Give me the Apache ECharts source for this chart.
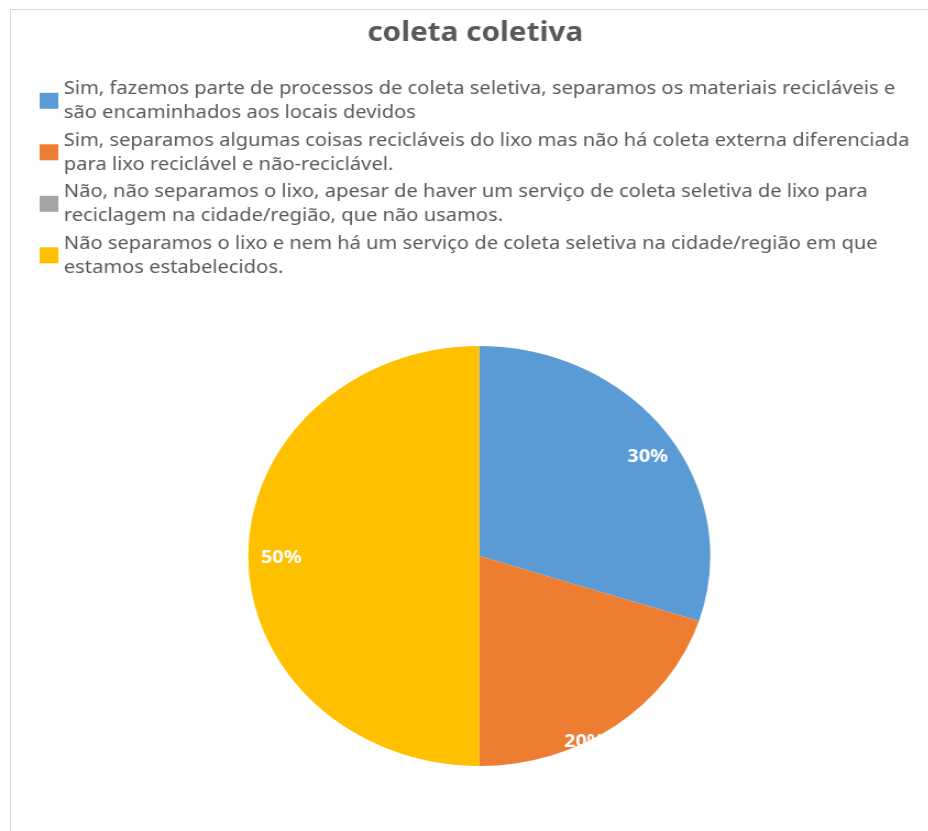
<!DOCTYPE html>
<html>
<head>
<meta charset="utf-8">
<script src="https://cdn.jsdelivr.net/npm/echarts@6/dist/echarts.min.js"></script>
<style>
  html, body { margin: 0; padding: 0; background: #fff; overflow: hidden; width: 928px; height: 831px; }
  /* light frame of the chart area */
  #frame { position: absolute; left: 10px; top: 9px; width: 2000px; height: 2000px;
           border-left: 1px solid #d9d9d9; border-top: 1px solid #d9d9d9; }
  /* the chart is drawn slightly narrower and stretched to the page width */
  #chart { position: absolute; left: 0; top: 0; width: 844px; height: 831px;
           transform: scaleX(1.1); transform-origin: 0 0; }
</style>
</head>
<body>
<div id="frame"></div>
<div id="chart"></div>
<script>
// Answers (legend text keeps its line breaks)
const categories = [
  'Sim, fazemos parte de processos de coleta seletiva, separamos os materiais recicláveis e\nsão encaminhados aos locais devidos',
  'Sim, separamos algumas coisas recicláveis do lixo mas não há coleta externa diferenciada\npara lixo reciclável e não-reciclável.',
  'Não, não separamos o lixo, apesar de haver um serviço de coleta seletiva de lixo para\nreciclagem na cidade/região, que não usamos.',
  'Não separamos o lixo e nem há um serviço de coleta seletiva na cidade/região em que\nestamos estabelecidos.'
];
// Share of answers, in percent
const values = [30, 20, 0, 50];

const colors = ['#5B9BD5', '#ED7D31', '#A5A5A5', '#FFC000'];
const FONT = '"Noto Sans", "Open Sans", sans-serif';
const CENTER = [435.7, 556];
const RADIUS = 210;
// small nudges for the percentage labels
const labelShift = { 0: [5, 8], 1: [-12, 38], 3: [3, 2] };

const pieData = categories.map((name, i) => ({ name, value: values[i] }));

const chart = echarts.init(document.getElementById('chart'), null, { renderer: 'canvas' });
chart.setOption({
  animation: false,
  color: colors,
  title: {
    text: 'coleta coletiva',
    left: 432,
    top: 20,
    padding: 0,
    textAlign: 'center',
    textStyle: { fontFamily: FONT, fontSize: 27, fontWeight: 'bold', color: '#595959' }
  },
  legend: {
    orient: 'vertical',
    left: 36,
    top: 74,
    padding: 0,
    itemWidth: 17,
    itemHeight: 16,
    itemGap: -2.1,
    icon: 'rect',
    selectedMode: false,
    data: categories,
    textStyle: { fontFamily: FONT, fontSize: 18.3, color: '#595959', lineHeight: 24, padding: [5.6, 0, 0, 0] }
  },
  series: [
    {
      name: 'coleta coletiva',
      type: 'pie',
      center: CENTER,
      radius: RADIUS,
      startAngle: 90,
      clockwise: true,
      silent: true,
      avoidLabelOverlap: false,
      itemStyle: { borderWidth: 0 },
      label: { show: false },
      labelLine: { show: false },
      data: pieData
    },
    {
      // transparent ring that carries the percentage labels
      name: 'rótulos',
      type: 'pie',
      center: CENTER,
      radius: [150, RADIUS],
      startAngle: 90,
      clockwise: true,
      silent: true,
      z: 3,
      avoidLabelOverlap: false,
      itemStyle: { color: 'rgba(0,0,0,0)', borderWidth: 0 },
      label: {
        show: true,
        position: 'inside',
        formatter: p => (p.value ? Math.round(p.percent) + '%' : ''),
        color: '#ffffff',
        fontFamily: FONT,
        fontSize: 18,
        fontWeight: 'bold'
      },
      labelLine: { show: false },
      labelLayout: p => {
        const s = labelShift[p.dataIndex];
        return s ? { dx: s[0], dy: s[1] } : {};
      },
      data: pieData
    }
  ]
});
</script>
</body>
</html>
